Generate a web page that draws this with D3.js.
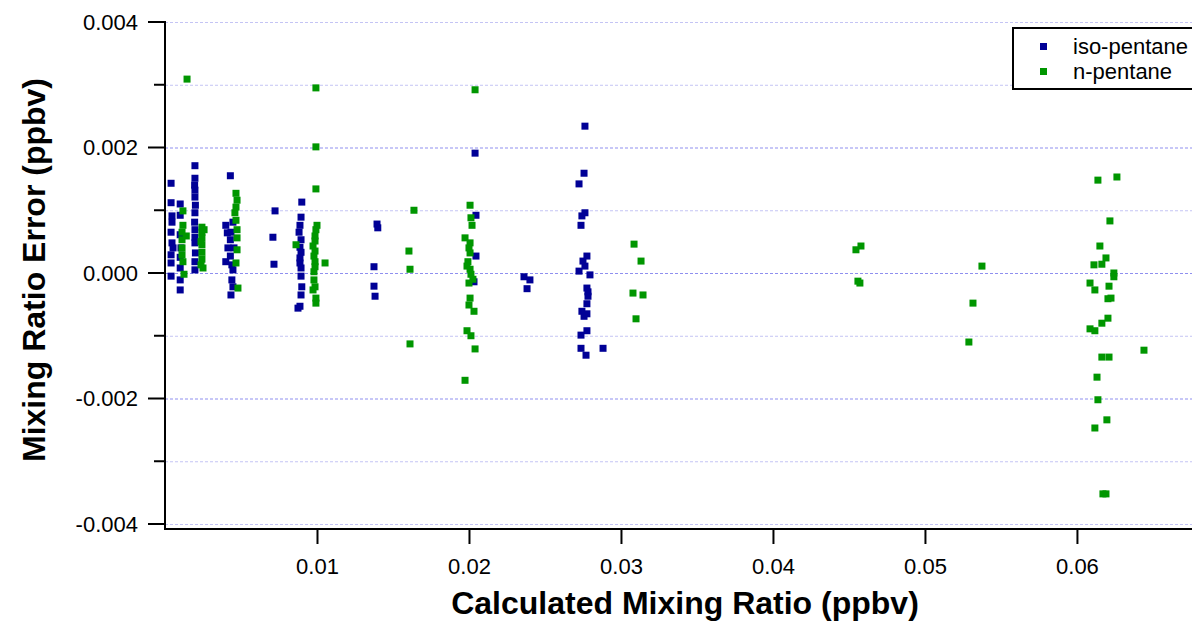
<!doctype html>
<html lang="en">
<head>
<meta charset="utf-8">
<title>Mixing Ratio Error</title>
<style>
    body { margin: 0; background: #fff; }
    svg { display: block; font-family: "Liberation Sans", Arial, sans-serif; }
</style>
</head>
<body>
<svg width="1192" height="621" id="chart"></svg>
<script src="https://cdn.jsdelivr.net/npm/d3@7"></script>
<script>
    // iso-pentane: calculated mixing ratio (ppbv) and error (ppbv)
    const isoX = [
        0.0004, 0.0004, 0.00046, 0.00046, 0.0004, 0.00046, 0.0004, 0.0004, 0.0004,
        0.001, 0.001, 0.001, 0.001, 0.001, 0.001, 0.001, 0.00053, 0.00105,
        0.00197, 0.00197, 0.00195, 0.00197, 0.00197, 0.002, 0.00197, 0.00195, 0.00197, 0.00197, 0.00197, 0.002, 0.00197, 0.00197,
        0.0043, 0.004, 0.0041, 0.00447, 0.00434, 0.0043, 0.00414, 0.00454, 0.0043, 0.004, 0.0044, 0.00447, 0.0044, 0.00447, 0.00434,
        0.00724, 0.0071, 0.00717,
        0.009, 0.00895, 0.00888, 0.00882, 0.00895, 0.00888, 0.00895, 0.00888, 0.00888, 0.00895, 0.00895, 0.009, 0.00895, 0.00888, 0.00875,
        0.01395, 0.014, 0.01375, 0.01375, 0.01382,
        0.0204, 0.02046, 0.02046, 0.02033,
        0.02362, 0.02401, 0.02382,
        0.02763, 0.02757, 0.02724, 0.02763, 0.02743, 0.02737, 0.02776, 0.0275, 0.02763, 0.02724, 0.02796, 0.02776,
        0.02783, 0.02783, 0.02776, 0.02743, 0.02776, 0.02757, 0.02776, 0.02737, 0.02737, 0.02882, 0.0277
    ];
    const isoY = [
        0.00143, 0.00112, 0.00091, 0.00081, 0.00065, 0.00048, 0.00029, 0.00016, -0.00005,
        0.0011, 0.00092, 0.00061, 0.00025, 0.00008, -0.00011, -0.00027, 0.0004, 0.0004,
        0.00171, 0.00151, 0.0014, 0.00132, 0.00121, 0.00108, 0.00096, 0.00081, 0.00069, 0.00057, 0.00048, 0.00032, 0.00018, 0.00005,
        0.00155, 0.00076, 0.00064, 0.00081, 0.00065, 0.00053, 0.0004, 0.0004, 0.00027, 0.00018, 0.00013, 0.00005, -0.00011, -0.00022, -0.00035,
        0.00099, 0.00057, 0.00014,
        0.00113, 0.00089, 0.00076, 0.00065, 0.00053, 0.00041, 0.00033, 0.00024, 0.00016, 0.00008, -0.00005, -0.00022, -0.00035, -0.00053, -0.00056,
        0.00078, 0.00072, 0.0001, -0.00021, -0.00037,
        0.00191, 0.00092, 0.00027, -0.00014,
        -0.00006, -0.00011, -0.00025,
        0.00234, 0.00159, 0.00142, 0.00096, 0.00091, 0.00076, 0.00027, 0.00019, 0.00011, 0.00003, -0.00003, -0.00024,
        -0.0003, -0.00037, -0.00049, -0.00061, -0.00065, -0.00069, -0.00092, -0.00099, -0.0012, -0.0012, -0.00131
    ];

    // n-pentane
    const nX = [
        0.00145, 0.00118, 0.00118, 0.00112, 0.00112, 0.00112, 0.00112, 0.00118, 0.00125, 0.0014,
        0.00243, 0.00243, 0.00243, 0.00243, 0.00243, 0.00243, 0.00237, 0.0025, 0.00257, 0.00237,
        0.00467, 0.00474, 0.00467, 0.0046, 0.00467, 0.00474, 0.00474, 0.00474, 0.00467, 0.0048,
        0.00993, 0.00993, 0.00993, 0.01, 0.00993, 0.00987, 0.00987, 0.00974, 0.00987, 0.0098,
        0.00987, 0.00987, 0.0098, 0.0098, 0.00987, 0.00974, 0.00993, 0.00993, 0.01053, 0.00862,
        0.01638, 0.01605, 0.01612, 0.01612,
        0.0204, 0.02007, 0.02013, 0.0202, 0.01974, 0.02007, 0.02, 0.02007, 0.01993, 0.01987, 0.02007,
        0.02013, 0.02026, 0.02, 0.02007, 0.02, 0.02033, 0.01987, 0.02013, 0.0204, 0.01974,
        0.03086, 0.03132, 0.03079, 0.03145, 0.03099,
        0.04579, 0.04546, 0.04559, 0.04572,
        0.05375, 0.05316, 0.05289,
        0.06138, 0.06263, 0.06217, 0.06151, 0.06191, 0.06112, 0.06164, 0.06243, 0.06243, 0.06086, 0.06118, 0.06211, 0.06204, 0.06224,
        0.06204, 0.06164, 0.06086, 0.06118, 0.06441, 0.06164, 0.06211, 0.06132, 0.06138, 0.06197, 0.06118, 0.06171, 0.06191
    ];
    const nY = [
        0.00309, 0.00099, 0.00076, 0.00065, 0.00053, 0.0004, 0.00029, 0.00018, -0.00002, 0.00059,
        0.00073, 0.00065, 0.00056, 0.00045, 0.00033, 0.00022, 0.00013, 0.00008, 0.00069, 0.0005,
        0.00127, 0.00116, 0.00105, 0.00096, 0.00084, 0.00069, 0.00056, 0.00037, 0.00016, -0.00024,
        0.00295, 0.00201, 0.00134, 0.00076, 0.00069, 0.00059, 0.00051, 0.00043, 0.00035, 0.00027,
        0.00018, 0.0001, 0.00002, -0.00011, -0.00022, -0.00027, -0.0004, -0.00048, 0.00016, 0.00045,
        0.001, 0.00035, 0.00006, -0.00113,
        0.00292, 0.00108, 0.00088, 0.00076, 0.00056, 0.00048, 0.0004, 0.00032, 0.00018, 0.00011, 0.00006,
        -0.00002, -0.0001, -0.00016, -0.0004, -0.00051, -0.00061, -0.00092, -0.001, -0.00121, -0.00171,
        0.00046, 0.00019, -0.00032, -0.00035, -0.00073,
        0.00043, 0.00037, -0.00013, -0.00016,
        0.00011, -0.00048, -0.0011,
        0.00148, 0.00153, 0.00083, 0.00043, 0.00024, 0.00013, 0.00014, 0, -0.00006, -0.00016, -0.00027, -0.00021, -0.00041, -0.0004,
        -0.00072, -0.0008, -0.00089, -0.00092, -0.00123, -0.00134, -0.00134, -0.00166, -0.00202, -0.00234, -0.00247, -0.00352, -0.00352
    ];

    const seriesNames = ["iso-pentane", "n-pentane"];
    const seriesColors = ["#000096", "#009600"];
    const xTicks = [0.01, 0.02, 0.03, 0.04, 0.05, 0.06];
    const yTicks = [-0.004, -0.003, -0.002, -0.001, 0, 0.001, 0.002, 0.003, 0.004];
    const yLabelTicks = [-0.004, -0.002, 0, 0.002, 0.004];

    const svg = d3.select("#chart");
    const plot = {left: 165, right: 1192, top: 22, bottom: 524, axisY: 529};

    const x = d3.scaleLinear().domain([0, 0.06757]).range([plot.left, plot.right]);
    const y = d3.scaleLinear().domain([-0.004, 0.004]).range([plot.bottom, plot.top]);

    // dashed grid at every 0.001
    svg.append("g")
        .selectAll("line")
        .data(yTicks)
        .enter().append("line")
        .attr("x1", plot.left).attr("x2", plot.right)
        .attr("y1", d => y(d) + 0.5).attr("y2", d => y(d) + 0.5)
        .attr("stroke", d => (Math.abs(d) < 0.003 && Math.round(d * 1000) % 2 === 0) ? "#8f8fef" : "#c4c4f4")
        .attr("stroke-width", 1)
        .attr("stroke-dasharray", "3,2");

    // y axis
    svg.append("line")
        .attr("x1", plot.left).attr("x2", plot.left).attr("y1", plot.top - 1).attr("y2", plot.axisY + 1)
        .attr("stroke", "#000").attr("stroke-width", 2);
    svg.append("g").selectAll("line")
        .data(yTicks)
        .enter().append("line")
        .attr("x1", d => yLabelTicks.includes(d) ? plot.left - 17 : plot.left - 11)
        .attr("x2", plot.left)
        .attr("y1", d => y(d)).attr("y2", d => y(d))
        .attr("stroke", "#000").attr("stroke-width", 2);
    svg.append("g").selectAll("text")
        .data(yLabelTicks)
        .enter().append("text")
        .attr("x", plot.left - 27)
        .attr("y", d => y(d))
        .attr("dy", "0.36em")
        .attr("text-anchor", "end")
        .style("font-size", "22px")
        .text(d => d3.format(".3f")(d).replace("−", "-"));

    // x axis
    svg.append("line")
        .attr("x1", plot.left - 1).attr("x2", plot.right).attr("y1", plot.axisY).attr("y2", plot.axisY)
        .attr("stroke", "#000").attr("stroke-width", 2);
    const xAxis = svg.append("g")
        .attr("transform", "translate(0," + plot.axisY + ")")
        .call(d3.axisBottom(x).tickValues(xTicks).tickSize(15).tickPadding(14).tickFormat(d3.format(".2f")));
    xAxis.select(".domain").remove();
    xAxis.selectAll(".tick line").attr("stroke", "#000").attr("stroke-width", 2);
    xAxis.selectAll(".tick text")
        .attr("fill", "#000")
        .style("font-size", "22px")
        .style("font-family", "'Liberation Sans', Arial, sans-serif");

    // points
    const series = [
        {name: seriesNames[0], color: seriesColors[0], pts: isoX.map((v, i) => [v, isoY[i]])},
        {name: seriesNames[1], color: seriesColors[1], pts: nX.map((v, i) => [v, nY[i]])}
    ];
    const s = 7;
    series.forEach(ser => {
        svg.append("g")
            .selectAll("rect")
            .data(ser.pts)
            .enter().append("rect")
            .attr("x", d => x(d[0]) - s / 2)
            .attr("y", d => y(d[1]) - s / 2)
            .attr("width", s).attr("height", s)
            .attr("fill", ser.color);
    });

    // legend
    const lg = svg.append("g").attr("transform", "translate(1013,28)");
    lg.append("rect")
        .attr("width", 185).attr("height", 61)
        .attr("fill", "#fff").attr("stroke", "#000").attr("stroke-width", 2);
    series.forEach((ser, i) => {
        lg.append("rect")
            .attr("x", 27).attr("y", 15 + i * 25)
            .attr("width", 7).attr("height", 7)
            .attr("fill", ser.color);
        lg.append("text")
            .attr("x", 60).attr("y", 18 + i * 25)
            .attr("dy", "0.36em")
            .style("font-size", "22px")
            .text(ser.name);
    });

    // axis titles
    svg.append("text")
        .attr("transform", "translate(45,270) rotate(-90)")
        .attr("text-anchor", "middle")
        .style("font-size", "32px")
        .style("font-weight", "bold")
        .text("Mixing Ratio Error (ppbv)");
    svg.append("text")
        .attr("x", 685).attr("y", 614)
        .attr("text-anchor", "middle")
        .style("font-size", "32px")
        .style("font-weight", "bold")
        .text("Calculated Mixing Ratio (ppbv)");
</script>
</body>
</html>
